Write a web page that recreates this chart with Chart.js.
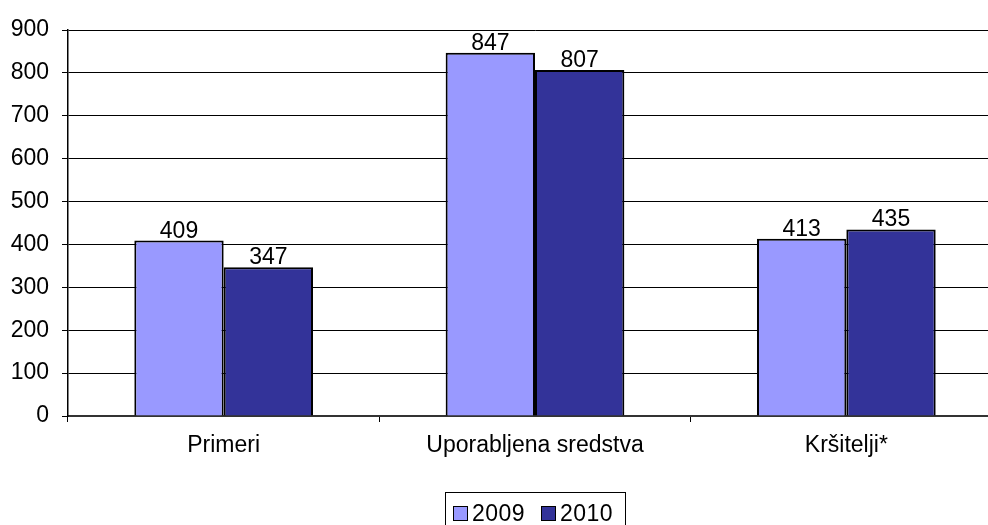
<!DOCTYPE html>
<html>
<head>
<meta charset="utf-8">
<script src="https://cdn.jsdelivr.net/npm/chart.js@4"></script>
<style>
  html, body { margin: 0; padding: 0; background: #fff; overflow: hidden; }
  #wrap { position: relative; width: 988px; height: 525px; overflow: hidden; }
  #box { position: absolute; left: 0; top: 0; width: 1002px; height: 525px; }
  #legend {
    position: absolute; left: 445px; top: 492px; width: 181px; height: 40px;
    border: 1px solid #000; box-sizing: border-box;
    font-family: "Liberation Sans", Arial, sans-serif; font-size: 23px; color: #000;
    letter-spacing: 0.5px;
  }
  #legend .item { position: absolute; top: 7px; display: flex; align-items: center; }
  #legend .sw { width: 13px; height: 13px; border: 1.5px solid #000; margin-right: 4px; }
</style>
</head>
<body>
<div id="wrap">
  <div id="box"><canvas id="chart"></canvas></div>
  <div id="legend"></div>
</div>
<script>
// ===== podatki =====
const categories = ['Primeri', 'Uporabljena sredstva', 'Kršitelji*'];
const seriesNames = ['2009', '2010'];
const values2009 = [409, 847, 413];
const values2010 = [347, 807, 435];
const yTicks = [0, 100, 200, 300, 400, 500, 600, 700, 800, 900];

const colors = ['#9999FF', '#333399'];
const font = { family: '"Liberation Sans", Arial, sans-serif', size: 23 };

// ===== oznake nad stolpci =====
const valueLabels = {
  id: 'valueLabels',
  afterDatasetsDraw(chart) {
    const c = chart.ctx;
    c.save();
    c.font = font.size + 'px ' + font.family;
    c.fillStyle = '#000';
    c.textAlign = 'center';
    c.textBaseline = 'alphabetic';
    chart.data.datasets.forEach((ds, i) => {
      chart.getDatasetMeta(i).data.forEach((bar, j) => {
        c.fillText(ds.data[j], bar.x, bar.y - 3);
      });
    });
    c.restore();
  }
};

const ctx = document.getElementById('chart').getContext('2d');
new Chart(ctx, {
  type: 'bar',
  data: {
    labels: categories,
    datasets: [
      { label: seriesNames[0], data: values2009, backgroundColor: colors[0], borderColor: '#000', borderWidth: 2 },
      { label: seriesNames[1], data: values2010, backgroundColor: colors[1], borderColor: '#000', borderWidth: 2 }
    ]
  },
  options: {
    responsive: true,
    maintainAspectRatio: false,
    animation: false,
    datasets: { bar: { categoryPercentage: 0.574, barPercentage: 1 } },
    layout: { padding: { top: 30, right: 0, bottom: 59, left: 0 } },
    plugins: { legend: { display: false }, tooltip: { enabled: false } },
    scales: {
      x: {
        offset: true,
        grid: { offset: true, drawOnChartArea: false, drawTicks: true, tickLength: 6, color: '#000' },
        border: { color: '#333', width: 2 },
        ticks: { color: '#000', font: font, padding: 10, maxRotation: 0 },
        afterFit(scale) { scale.height = 50; }
      },
      y: {
        min: 0,
        max: 900,
        afterBuildTicks(scale) { scale.ticks = yTicks.map(v => ({ value: v })); },
        grid: { color: '#000', lineWidth: 1, tickLength: 6 },
        border: { color: '#000', width: 1.5 },
        ticks: { color: '#000', font: font, padding: 13 },
        afterFit(scale) { scale.width = 68; }
      }
    }
  },
  plugins: [valueLabels]
});

// ===== legenda =====
const legend = document.getElementById('legend');
const itemLeft = [7, 95];
seriesNames.forEach((name, i) => {
  const item = document.createElement('div');
  item.className = 'item';
  item.style.left = itemLeft[i] + 'px';
  item.innerHTML = '<span class="sw" style="background:' + colors[i] + '"></span>' + name;
  legend.appendChild(item);
});
</script>
</body>
</html>
